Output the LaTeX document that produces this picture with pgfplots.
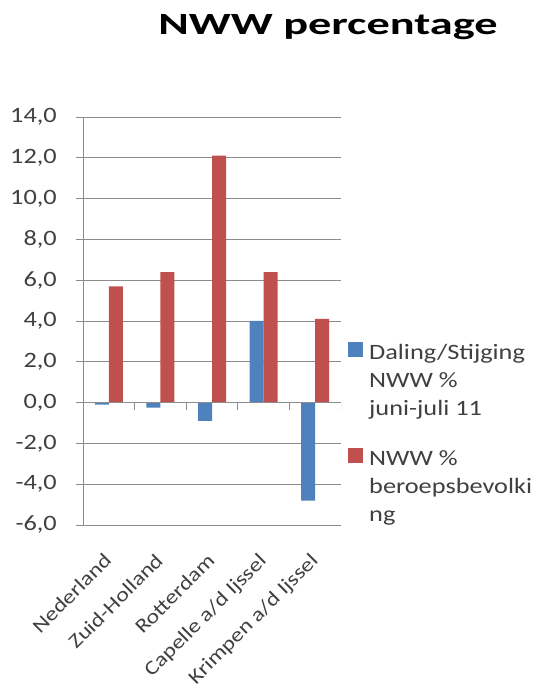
\documentclass[border=0pt]{standalone}
\usepackage{fontspec}
\setmainfont{Carlito}[FakeStretch=1.2]
\newfontfamily\titlefont{Carlito}[FakeStretch=1.5]
\usepackage{pgfplots}
\pgfplotsset{compat=1.18}

\definecolor{xlblue}{HTML}{4F81BD}
\definecolor{xlred}{HTML}{C0504D}
\definecolor{gridgray}{HTML}{8C8C8C}
\definecolor{txtgray}{HTML}{404040}

\begin{document}
\begin{tikzpicture}[x=1bp,y=1bp]
\useasboundingbox (0,0) rectangle (537,690);
\node[anchor=base, font=\titlefont\bfseries\fontsize{31}{36}\selectfont] at (328,655) {NWW percentage};
\begin{axis}[
  at={(83bp,165bp)}, anchor=south west,
  scale only axis, width=258bp, height=408bp,
  ybar=0pt, bar width=14bp,
  xmin=-0.5, xmax=4.5,
  ymin=-6, ymax=14,
  ytick={-6,-4,...,14},
  xtick={0,...,4},
  xticklabels={Nederland, Zuid-Holland, Rotterdam, Capelle a/d Ijssel, Krimpen a/d Ijssel},
  axis y line*=left, axis x line*=bottom,
  x axis line style={draw=none},
  y axis line style={draw=gridgray, line width=0.8bp, -},
  ymajorgrids,
  grid style={draw=gridgray, line width=0.8bp},
  tick align=outside,
  major tick length=7bp,
  xtick style={draw=none},
  ytick style={draw=gridgray, line width=0.8bp},
  /pgf/number format/.cd, fixed, fixed zerofill, precision=1, use comma, assume math mode=true,
  /pgfplots/.cd,
  yticklabel style={font=\fontsize{22}{26}\selectfont, text=txtgray, anchor=east, inner sep=0pt, xshift=-19bp},
  xticklabel style={yshift=-20bp, xshift=-6bp, rotate=45, anchor=north east, inner sep=0pt,
    font=\fontsize{20}{24}\selectfont, text=txtgray},
  legend style={draw=none, fill=none, at={(1.0155,0.455)}, anchor=north west,
    font=\fontsize{22}{28}\selectfont, text=txtgray,
    nodes={align=left, inner sep=0pt}, /tikz/column sep=6bp, /tikz/row sep=31bp},
  legend cell align=left,
  % the square sits beside the first of the three lines of each entry
  legend image code/.code={\fill[#1, draw=none] (0bp,24bp) rectangle (15bp,39bp);},
]
\addplot[fill=xlblue, draw=none] coordinates {(0,-0.1) (1,-0.25) (2,-0.9) (3,4.0) (4,-4.8)};
\addplot[fill=xlred, draw=none] coordinates {(0,5.7) (1,6.4) (2,12.1) (3,6.4) (4,4.1)};
\addlegendentry{Daling/Stijging\\NWW \%\\juni-juli 11}
\addlegendentry{NWW \%\\beroepsbevolki\\ng}
\draw[gridgray, line width=0.8bp] (axis cs:-0.5,0) -- (axis cs:4.5,0);
\draw[gridgray, line width=0.8bp] (axis cs:0.5,0) -- ([yshift=-7bp]axis cs:0.5,0);
\draw[gridgray, line width=0.8bp] (axis cs:1.5,0) -- ([yshift=-7bp]axis cs:1.5,0);
\draw[gridgray, line width=0.8bp] (axis cs:2.5,0) -- ([yshift=-7bp]axis cs:2.5,0);
\draw[gridgray, line width=0.8bp] (axis cs:3.5,0) -- ([yshift=-7bp]axis cs:3.5,0);
\draw[gridgray, line width=0.8bp] (axis cs:4.5,0) -- ([yshift=-7bp]axis cs:4.5,0);
\end{axis}
\end{tikzpicture}
\end{document}
